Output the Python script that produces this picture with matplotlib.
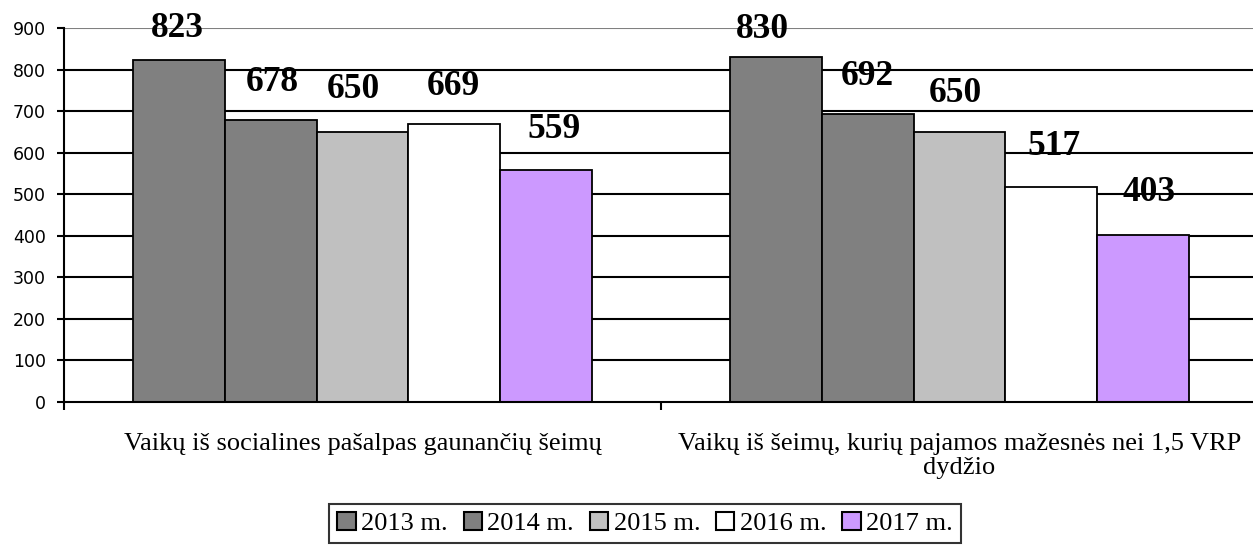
import matplotlib
matplotlib.use("Agg")
import matplotlib.pyplot as plt
import numpy as np
from matplotlib.patches import Patch

categories = ["Vaikų iš socialines pašalpas gaunančių šeimų",
              "Vaikų iš šeimų, kurių pajamos mažesnės nei 1,5 VRP\ndydžio"]
series_names = ["2013 m.", "2014 m.", "2015 m.", "2016 m.", "2017 m."]
v2013 = [823, 830]
v2014 = [678, 692]
v2015 = [650, 650]
v2016 = [669, 517]
v2017 = [559, 403]
yticks = [0, 100, 200, 300, 400, 500, 600, 700, 800, 900]

series = [v2013, v2014, v2015, v2016, v2017]
colors = ["#808080", "#808080", "#C0C0C0", "#FFFFFF", "#CC99FF"]

# label nudges (pixels) to mimic the original label placement
label_dx = [[-1, 2, -9, -1, 8], [-13, 0, -4, 3, 6]]
label_dy = [[31, 38, 42, 37, 40], [28, 38, 38, 41, 42]]

DPI = 100
fig = plt.figure(figsize=(12.53, 5.45), dpi=DPI)
W, H = 1253, 545
ax_left, ax_right, ax_top, ax_bottom = 64, 1258, 28, 402
ax = fig.add_axes([ax_left / W, 1 - ax_bottom / H,
                   (ax_right - ax_left) / W, (ax_bottom - ax_top) / H])

serif = "Liberation Serif"
px2pt = 72.0 / DPI

x = np.arange(len(categories))
n = len(series)
bw = 0.77 / n
for i, (vals, c) in enumerate(zip(series, colors)):
    xs = x - 0.385 + bw * (i + 0.5)
    bars = ax.bar(xs, vals, width=bw, color=c, edgecolor="black",
                  linewidth=1.3, zorder=3, label=series_names[i])
    for j, (b, v) in enumerate(zip(bars, vals)):
        ax.annotate(str(v), xy=(b.get_x() + b.get_width() / 2, v),
                    xytext=(label_dx[j][i] * px2pt, label_dy[j][i] * px2pt),
                    textcoords="offset points", ha="center", va="center",
                    fontsize=25.5, fontweight="bold", family=serif, zorder=5)

ax.set_xlim(-0.5, 1.5)
ax.set_ylim(0, 900)
ax.set_yticks(yticks)
ax.set_yticklabels([str(t) for t in yticks], family="DejaVu Sans", fontsize=12.5)

# gridlines
for t in yticks[1:]:
    ax.axhline(t, color="#808080" if t == 900 else "black",
               linewidth=1.5, zorder=1)

for s in ["top", "right"]:
    ax.spines[s].set_visible(False)
ax.spines["left"].set_linewidth(1.5)
ax.spines["bottom"].set_linewidth(1.5)
ax.spines["left"].set_zorder(4)
ax.spines["bottom"].set_zorder(4)

ax.tick_params(axis="y", direction="out", length=5, width=1.5, pad=8)
ax.set_xticks(x)
ax.set_xticklabels(categories, family=serif, fontsize=19, linespacing=1.15)
ax.tick_params(axis="x", which="major", length=0, pad=22)
ax.set_xticks([-0.5, 0.5, 1.5], minor=True)
ax.tick_params(axis="x", which="minor", direction="out", length=6, width=1.5)

handles = [Patch(facecolor=c, edgecolor="black", linewidth=1.5) for c in colors]
leg = fig.legend(handles, series_names, loc="upper center",
                 bbox_to_anchor=(645 / W, 1 - 504 / H), ncol=5,
                 prop={"family": serif, "size": 19},
                 frameon=True, fancybox=False, shadow=False,
                 handlelength=0.7, handleheight=0.7, handletextpad=0.2,
                 columnspacing=0.6, borderpad=0.3, borderaxespad=0)
leg.get_frame().set_edgecolor("black")
leg.get_frame().set_linewidth(1.5)

fig.savefig("out.png", dpi=DPI)
